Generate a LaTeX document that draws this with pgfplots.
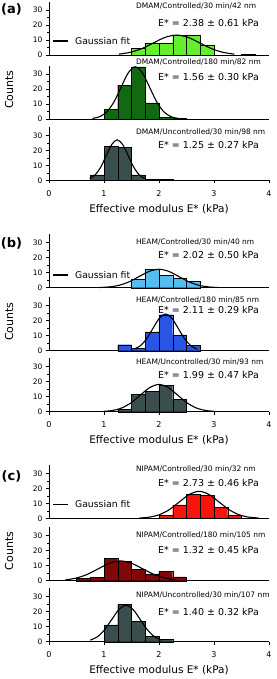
\documentclass[border=0pt]{standalone}
\usepackage{pgfplots}
\pgfplotsset{compat=1.18}
\usepackage{fontspec}
\setmainfont{DejaVu Sans}
\definecolor{lgreen}{RGB}{100,238,45}
\definecolor{dgreen}{RGB}{18,105,18}
\definecolor{slate}{RGB}{58,78,78}
\definecolor{lblue}{RGB}{85,190,240}
\definecolor{mblue}{RGB}{40,85,230}
\definecolor{mred}{RGB}{248,20,10}
\definecolor{dred}{RGB}{128,8,8}
\pgfplotsset{
 sub/.style={scale only axis, width=220pt, height=53.25pt, xmin=0, xmax=4, ymin=0, ymax=35.5,
  axis x line*=bottom, axis y line*=left, axis line style={line width=0.6pt},
  ytick={0,10,20,30}, minor y tick num=1, xtick=\empty, tick align=outside,
  major tick length=3pt, minor tick length=1.8pt, tick style={black, line width=0.5pt},
  tick label style={font=\fontsize{7.5}{8}\selectfont},
  /pgf/number format/assume math mode=true, clip=false, anchor=south west},
 bot/.style={xtick={0,1,2,3,4}, xlabel={Effective modulus E* (kPa)},
  xlabel style={font=\fontsize{10.5}{12}\selectfont, yshift=-1pt},
  xticklabel style={font=\fontsize{8}{9}\selectfont, yshift=-3.5pt}},
 hist/.style={ybar interval, draw=black, line width=0.4pt},
 gfit/.style={black, line width=1.1pt, smooth, no marks},
}
\tikzset{
 lab/.style={font=\fontsize{7.5}{8}\selectfont, anchor=west, inner sep=0pt},
 emod/.style={font=\fontsize{9.5}{11}\selectfont, inner sep=0pt},
 gleg/.style={font=\fontsize{9.3}{11}\selectfont, anchor=west, inner sep=0pt},
}
\begin{document}
\begin{tikzpicture}
\useasboundingbox (0,0) rectangle (276pt,-679pt);
% panel labels and Counts
\node[font=\fontsize{13}{14}\selectfont\bfseries, inner sep=0pt] at (11.5pt,-9pt) {(a)};
\node[font=\fontsize{13}{14}\selectfont\bfseries, inner sep=0pt] at (11.5pt,-243pt) {(b)};
\node[font=\fontsize{13}{14}\selectfont\bfseries, inner sep=0pt] at (11.5pt,-476.7pt) {(c)};
\node[font=\fontsize{11}{12}\selectfont, rotate=90, inner sep=0pt] at (9pt,-89.5pt) {Counts};
\node[font=\fontsize{11}{12}\selectfont, rotate=90, inner sep=0pt] at (9pt,-321.5pt) {Counts};
\node[font=\fontsize{11}{12}\selectfont, rotate=90, inner sep=0pt] at (9pt,-551pt) {Counts};

% ---------- (a) ----------
\begin{axis}[sub, at={(49pt,-55pt)}]
\addplot[hist, fill=lgreen] coordinates {(1.5,4.4)(1.75,8)(2.0,8)(2.25,13)(2.5,13.3)(2.75,6.4)(3.0,0)};
\addplot[hist, fill=lgreen] coordinates {(3.5,0.7)(3.75,0)};
\addplot[gfit] coordinates {(1.27,0.58)(1.48,1.80)(1.69,4.32)(1.90,8.07)(2.11,11.74)(2.32,13.3)(2.53,11.74)(2.74,8.07)(2.95,4.32)(3.16,1.80)(3.37,0.58)};
\draw[line width=1.1pt] (axis cs:0.07,9.3) -- (axis cs:0.35,9.3);
\node[gleg] at (axis cs:0.47,9.3) {Gaussian fit};
\node[lab] at (axis cs:1.58,32.7) {DMAM/Controlled/30 min/42 nm};
\node[emod] at (axis cs:2.9,21.5) {E* = 2.38 ± 0.61 kPa};
\end{axis}
\begin{axis}[sub, at={(49pt,-119pt)}]
\addplot[hist, fill=dgreen] coordinates {(1.0,6.6)(1.25,22.6)(1.5,34.7)(1.75,10.8)(2.0,1.3)(2.25,0.6)(2.5,0)};
\addplot[gfit] coordinates {(0.79,0.39)(0.92,1.53)(1.05,4.71)(1.18,11.30)(1.31,21.11)(1.44,30.71)(1.57,34.8)(1.70,30.71)(1.83,21.11)(1.96,11.30)(2.09,4.71)(2.22,1.53)(2.35,0.39)};
\node[lab] at (axis cs:1.58,38.2) {DMAM/Controlled/180 min/82 nm};
\node[emod] at (axis cs:2.9,28.2) {E* = 1.56 ± 0.30 kPa};
\end{axis}
\begin{axis}[sub, bot, at={(49pt,-180.3pt)}]
\addplot[hist, fill=slate] coordinates {(0.75,3.6)(1.0,22.7)(1.25,21.8)(1.5,3.7)(1.75,0.6)(2.0,0.6)(2.25,0)};
\addplot[gfit] coordinates {(0.74,1.19)(0.84,3.65)(0.94,8.77)(1.04,16.38)(1.14,23.83)(1.24,27)(1.34,23.83)(1.44,16.38)(1.54,8.77)(1.64,3.65)(1.74,1.19)};
\node[lab] at (axis cs:1.58,32.2) {DMAM/Uncontrolled/30 min/98 nm};
\node[emod] at (axis cs:2.9,23.5) {E* = 1.25 ± 0.27 kPa};
\end{axis}

% ---------- (b) ----------
\begin{axis}[sub, at={(49pt,-287.7pt)}]
\addplot[hist, fill=lblue] coordinates {(1.5,5.7)(1.75,12.1)(2.0,8.4)(2.25,6.6)(2.5,4.3)(2.75,0)};
\addplot[gfit] coordinates {(0.92,0.14)(1.10,0.54)(1.28,1.66)(1.46,3.99)(1.64,7.46)(1.82,10.85)(2.00,12.3)(2.18,10.85)(2.36,7.46)(2.54,3.99)(2.72,1.66)(2.90,0.54)(3.08,0.14)};
\draw[line width=1.1pt] (axis cs:0.07,8.5) -- (axis cs:0.35,8.5);
\node[gleg] at (axis cs:0.47,8.5) {Gaussian fit};
\node[lab] at (axis cs:1.58,30.5) {HEAM/Controlled/30 min/40 nm};
\node[emod] at (axis cs:2.9,21.8) {E* = 2.02 ± 0.50 kPa};
\end{axis}
\begin{axis}[sub, at={(49pt,-350.7pt)}]
\addplot[hist, fill=mblue] coordinates {(1.25,4)(1.5,1.5)(1.75,12.5)(2.0,24)(2.25,10.6)(2.5,3.8)(2.75,0)};
\addplot[gfit] coordinates {(1.545,1.08)(1.66,3.31)(1.775,7.96)(1.89,14.86)(2.005,21.62)(2.12,24.5)(2.235,21.62)(2.35,14.86)(2.465,7.96)(2.58,3.31)(2.695,1.08)};
\node[lab] at (axis cs:1.58,33.8) {HEAM/Controlled/180 min/85 nm};
\node[emod] at (axis cs:2.9,27.1) {E* = 2.11 ± 0.29 kPa};
\end{axis}
\begin{axis}[sub, bot, at={(49pt,-411.7pt)}]
\addplot[hist, fill=slate] coordinates {(1.25,1.5)(1.5,11.6)(1.75,13.7)(2.0,17.7)(2.25,8.3)(2.5,0)};
\addplot[gfit] coordinates {(0.98,0.20)(1.15,0.80)(1.32,2.46)(1.49,5.91)(1.66,11.04)(1.83,16.06)(2.0,18.2)(2.17,16.06)(2.34,11.04)(2.51,5.91)(2.68,2.46)(2.85,0.80)(3.02,0.20)};
\node[lab] at (axis cs:1.58,32.9) {HEAM/Uncontrolled/30 min/93 nm};
\node[emod] at (axis cs:2.9,24.5) {E* = 1.99 ± 0.47 kPa};
\end{axis}

% ---------- (c) ----------
\begin{axis}[sub, at={(49pt,-518.3pt)}]
\addplot[hist, fill=mred] coordinates {(2.0,2.1)(2.25,9)(2.5,16)(2.75,15.1)(3.0,7.2)(3.25,2.3)(3.5,0)};
\addplot[gfit] coordinates {(1.65,0.20)(1.83,0.79)(2.01,2.44)(2.19,5.84)(2.37,10.92)(2.55,15.89)(2.73,18.0)(2.91,15.89)(3.09,10.92)(3.27,5.84)(3.45,2.44)(3.63,0.79)(3.81,0.20)};
\draw[line width=1.1pt] (axis cs:0.07,9.3) -- (axis cs:0.35,9.3);
\node[gleg] at (axis cs:0.47,9.3) {Gaussian fit};
\node[lab] at (axis cs:1.58,32.7) {NIPAM/Controlled/30 min/32 nm};
\node[emod] at (axis cs:2.9,23.3) {E* = 2.73 ± 0.46 kPa};
\end{axis}
\begin{axis}[sub, at={(49pt,-580.7pt)}]
\addplot[hist, fill=dred] coordinates {(0.5,1.4)(0.75,2.3)(1.0,15)(1.25,13.1)(1.5,7.8)(1.75,4.5)(2.0,6.4)(2.25,2.6)(2.5,0)};
\addplot[gfit] coordinates {(0.30,0.58)(0.50,1.79)(0.70,4.29)(0.90,8.01)(1.10,11.65)(1.30,13.2)(1.50,11.65)(1.70,8.01)(1.90,4.29)(2.10,1.79)(2.30,0.58)};
\node[lab] at (axis cs:1.58,30.5) {NIPAM/Controlled/180 min/105 nm};
\node[emod] at (axis cs:2.9,20.5) {E* = 1.32 ± 0.45 kPa};
\end{axis}
\begin{axis}[sub, bot, at={(49pt,-641.7pt)}]
\addplot[hist, fill=slate] coordinates {(1.0,11.3)(1.25,24.8)(1.5,13.6)(1.75,3.6)(2.0,1.4)(2.25,0)};
\addplot[gfit] coordinates {(0.75,1.07)(0.88,3.29)(1.01,7.89)(1.14,14.74)(1.27,21.44)(1.40,24.3)(1.53,21.44)(1.66,14.74)(1.79,7.89)(1.92,3.29)(2.05,1.07)};
\node[lab] at (axis cs:1.58,31.1) {NIPAM/Uncontrolled/30 min/107 nm};
\node[emod] at (axis cs:2.9,20) {E* = 1.40 ± 0.32 kPa};
\end{axis}
\end{tikzpicture}
\end{document}
